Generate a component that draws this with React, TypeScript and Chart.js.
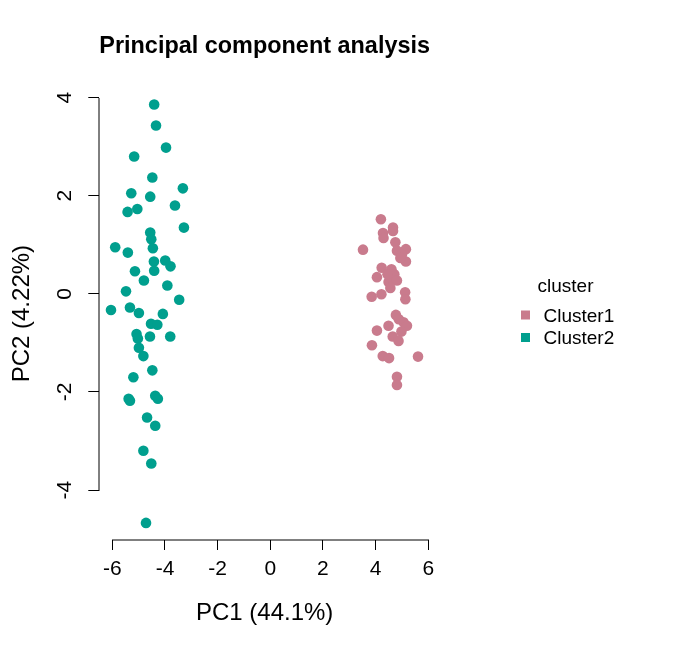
import React, { useEffect, useRef } from "react";
import { Chart, registerables } from "chart.js";

Chart.register(...registerables);

const chartTitle = "Principal component analysis";
const xTitle = "PC1 (44.1%)";
const yTitle = "PC2 (4.22%)";
const legendTitle = "cluster";
const seriesNames = ["Cluster1", "Cluster2"];
const seriesColors = ["#C97B8D", "#009F8E"];

const xTicks = [-6, -4, -2, 0, 2, 4, 6];
const yTicks = [-4, -2, 0, 2, 4];
const xLimits = [-6.494, 6.065];
const yLimits = [-5.008, 4.2];

const cluster1X = [4.20, 4.66, 4.66, 4.28, 4.30, 4.75, 3.52, 5.15, 4.81, 5.00, 5.15, 4.94, 4.23, 4.60, 4.05, 4.71, 4.49, 4.81, 4.56, 3.85, 4.22, 5.12, 5.13, 4.77, 4.49, 5.06, 5.19, 4.05, 4.98, 4.65, 4.87, 3.86, 4.27, 4.51, 5.61, 4.81, 4.81, 4.45, 4.88];
const cluster1Y = [1.52, 1.35, 1.28, 1.24, 1.14, 1.05, 0.90, 0.91, 0.88, 0.80, 0.66, 0.73, 0.53, 0.50, 0.34, 0.40, 0.24, 0.27, 0.12, -0.06, -0.01, 0.03, -0.11, -0.43, -0.65, -0.58, -0.65, -0.75, -0.77, -0.87, -0.96, -1.05, -1.27, -1.31, -1.28, -1.69, -1.86, 0.40, -0.52];

const cluster2X = [-4.41, -4.34, -3.96, -5.17, -4.48, -3.32, -5.28, -4.56, -3.62, -5.42, -5.05, -3.28, -4.56, -4.52, -5.89, -5.41, -4.46, -4.42, -3.99, -3.79, -5.14, -4.41, -4.80, -3.91, -5.48, -3.46, -6.05, -5.33, -4.99, -4.08, -4.53, -4.29, -5.08, -5.03, -4.57, -3.80, -4.99, -4.82, -4.48, -5.20, -5.38, -5.33, -4.37, -4.27, -4.68, -4.37, -4.82, -4.52, -4.72];
const cluster2Y = [3.86, 3.43, 2.98, 2.80, 2.37, 2.15, 2.05, 1.98, 1.80, 1.67, 1.73, 1.35, 1.25, 1.11, 0.95, 0.84, 0.93, 0.66, 0.68, 0.56, 0.46, 0.47, 0.27, 0.17, 0.05, -0.12, -0.33, -0.28, -0.39, -0.41, -0.61, -0.63, -0.82, -0.91, -0.87, -0.87, -1.10, -1.27, -1.56, -1.70, -2.14, -2.18, -2.08, -2.14, -2.52, -2.69, -3.20, -3.46, -4.67];

const FONT = "'Liberation Sans', Arial, sans-serif";

const toPoints = (xs: number[], ys: number[]) => xs.map((x, i) => ({ x, y: ys[i] }));

const axisLinePlugin = {
  id: "rAxisLines",
  afterDraw(chart: any) {
    const { ctx, chartArea, scales } = chart;
    const xs = scales.x;
    const ys = scales.y;
    ctx.save();
    ctx.strokeStyle = "#000";
    ctx.lineWidth = 1;
    const by = Math.round(chartArea.bottom);
    const lx = Math.round(chartArea.left);
    ctx.beginPath();
    ctx.moveTo(Math.round(xs.getPixelForValue(xTicks[0])), by);
    ctx.lineTo(Math.round(xs.getPixelForValue(xTicks[xTicks.length - 1])) + 1, by);
    ctx.moveTo(lx, Math.round(ys.getPixelForValue(yTicks[yTicks.length - 1])));
    ctx.lineTo(lx, Math.round(ys.getPixelForValue(yTicks[0])) + 1);
    ctx.stroke();
    ctx.restore();
  },
};

const legendPlugin = {
  id: "rLegend",
  afterDraw(chart: any) {
    const { ctx } = chart;
    ctx.save();
    ctx.fillStyle = "#000";
    ctx.font = `19px ${FONT}`;
    ctx.textAlign = "left";
    ctx.textBaseline = "alphabetic";
    ctx.fillText(legendTitle, 537.5, 291.5);
    chart.data.datasets.forEach((ds: any, i: number) => {
      const cy = 315 + i * 22.5;
      ctx.fillStyle = ds.backgroundColor;
      ctx.fillRect(521, cy - 4.5, 9, 9);
      ctx.fillStyle = "#000";
      ctx.textBaseline = "middle";
      ctx.fillText(ds.label, 543.5, cy + 1.5);
    });
    ctx.restore();
  },
};

export default function App() {
  const canvasRef = useRef<HTMLCanvasElement | null>(null);

  useEffect(() => {
    if (!canvasRef.current) return;
    const chart = new Chart(canvasRef.current, {
      type: "scatter",
      data: {
        datasets: [
          {
            label: seriesNames[0],
            data: toPoints(cluster1X, cluster1Y),
            backgroundColor: seriesColors[0],
            borderColor: seriesColors[0],
            borderWidth: 0,
            pointRadius: 5.3,
          },
          {
            label: seriesNames[1],
            data: toPoints(cluster2X, cluster2Y),
            backgroundColor: seriesColors[1],
            borderColor: seriesColors[1],
            borderWidth: 0,
            pointRadius: 5.3,
          },
        ],
      },
      options: {
        animation: false,
        responsive: true,
        maintainAspectRatio: false,
        layout: { padding: { left: 0, top: 31.3, right: 270, bottom: 0 } },
        plugins: {
          legend: { display: false },
          tooltip: { enabled: false },
          title: {
            display: true,
            text: chartTitle,
            fullSize: false,
            color: "#000",
            font: { family: FONT, size: 24.3, weight: "bold", lineHeight: 1.2 },
            padding: { top: 0, bottom: 27.3 },
          },
        },
        scales: {
          x: {
            type: "linear",
            min: xLimits[0],
            max: xLimits[1],
            afterBuildTicks: (scale: any) => {
              scale.ticks = xTicks.map((v) => ({ value: v }));
            },
            afterFit: (scale: any) => {
              scale.height = 110.5;
            },
            border: { display: false },
            grid: {
              display: true,
              drawOnChartArea: false,
              drawTicks: true,
              tickLength: 10.5,
              tickColor: "#000",
              tickWidth: 1,
            },
            ticks: {
              color: "#000",
              font: { family: FONT, size: 21, lineHeight: 1.2 },
              padding: 6.5,
              maxRotation: 0,
              autoSkip: false,
              callback: (v: any) => String(v),
            },
            title: {
              display: true,
              text: xTitle,
              color: "#000",
              font: { family: FONT, size: 24, lineHeight: 1.2 },
              padding: { top: 0, bottom: 22.6 },
            },
          },
          y: {
            type: "linear",
            min: yLimits[0],
            max: yLimits[1],
            afterBuildTicks: (scale: any) => {
              scale.ticks = yTicks.map((v) => ({ value: v }));
            },
            afterFit: (scale: any) => {
              scale.width = 99.3;
            },
            border: { display: false },
            grid: {
              display: true,
              drawOnChartArea: false,
              drawTicks: true,
              tickLength: 11,
              tickColor: "#000",
              tickWidth: 1,
            },
            ticks: {
              color: "#000",
              font: { family: FONT, size: 21, lineHeight: 1.2 },
              padding: 13.7,
              minRotation: 90,
              maxRotation: 90,
              crossAlign: "center",
              autoSkip: false,
              callback: (v: any) => String(v),
            },
            title: {
              display: true,
              text: yTitle,
              color: "#000",
              font: { family: FONT, size: 24, lineHeight: 1.2 },
              padding: { top: 8, bottom: 0 },
            },
          },
        },
      },
      plugins: [axisLinePlugin, legendPlugin],
    } as any);
    return () => chart.destroy();
  }, []);

  return (
    <div
      style={{
        position: "absolute",
        left: 0,
        top: 0,
        width: 700,
        height: 650,
        background: "#fff",
      }}
    >
      <canvas ref={canvasRef} />
    </div>
  );
}
